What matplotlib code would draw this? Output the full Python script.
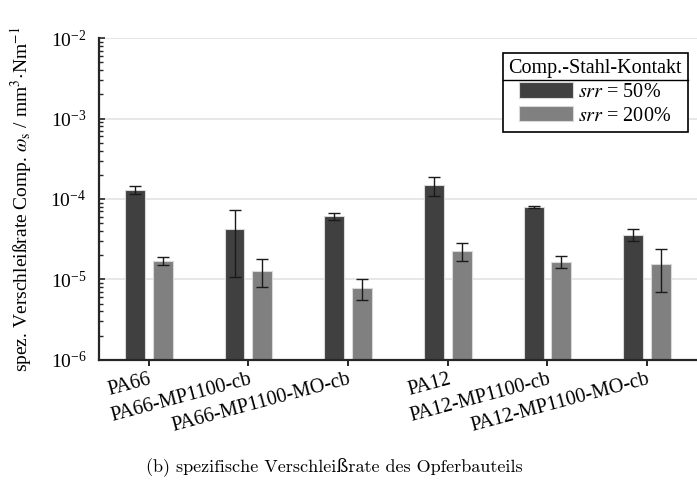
import matplotlib
matplotlib.use('Agg')
import matplotlib.pyplot as plt
import numpy as np
from matplotlib.ticker import LogLocator, NullFormatter

plt.rcParams['font.family'] = ['Liberation Serif', 'DejaVu Serif']
plt.rcParams['mathtext.fontset'] = 'stix'
plt.rcParams['font.size'] = 14

materials = ['PA66', 'PA66-MP1100-cb', 'PA66-MP1100-MO-cb',
             'PA12', 'PA12-MP1100-cb', 'PA12-MP1100-MO-cb']
rate_50 = [1.31e-4, 4.18e-5, 6.1e-5, 1.48e-4, 8.05e-5, 3.6e-5]
err_50 = [0.16e-4, 3.1e-5, 0.6e-5, 0.38e-4, 0.22e-5, 0.6e-5]
rate_200 = [1.69e-5, 1.29e-5, 7.8e-6, 2.25e-5, 1.67e-5, 1.55e-5]
err_200 = [0.19e-5, 0.49e-5, 2.3e-6, 0.55e-5, 0.27e-5, 0.86e-5]
legend_title = 'Comp.-Stahl-Kontakt'
series_labels = [r'$srr$ = 50%', r'$srr$ = 200%']

fig = plt.figure(figsize=(6.97, 4.83), dpi=100)
ax = fig.add_axes([0.142, 0.255, 0.858, 0.666])

x = np.arange(1, len(materials) + 1)
w = 0.2
b1 = ax.bar(x - 0.14, rate_50, w, color='#404040', edgecolor='#d9d9d9',
            linewidth=0.8, label=series_labels[0], zorder=2)
b2 = ax.bar(x + 0.14, rate_200, w, color='#808080', edgecolor='#d9d9d9',
            linewidth=0.8, label=series_labels[1], zorder=2)
ax.errorbar(x - 0.14, rate_50, yerr=err_50, fmt='none', ecolor='#1a1a1a',
            elinewidth=1, capsize=4, capthick=1, zorder=3)
ax.errorbar(x + 0.14, rate_200, yerr=err_200, fmt='none', ecolor='#1a1a1a',
            elinewidth=1, capsize=4, capthick=1, zorder=3)

ax.set_yscale('log')
ax.set_ylim(1e-6, 1e-2)
ax.set_xlim(0.5, 6.5)
ax.yaxis.set_major_locator(LogLocator(base=10, numticks=10))
ax.yaxis.set_minor_locator(LogLocator(base=10, subs=np.arange(2, 10), numticks=10))
ax.yaxis.set_minor_formatter(NullFormatter())
ax.grid(axis='y', which='major', color='#e3e3e3', linewidth=1.2, zorder=0)
ax.set_axisbelow(True)

for s in ['top', 'right']:
    ax.spines[s].set_visible(False)
for s in ['left', 'bottom']:
    ax.spines[s].set_linewidth(1.6)
    ax.spines[s].set_color('#262626')

ax.tick_params(axis='y', which='major', direction='in', length=4.5, width=1.2,
               color='#262626', labelsize=14, pad=9)
ax.tick_params(axis='y', which='minor', direction='in', length=3, width=1,
               color='#262626')
ax.tick_params(axis='x', direction='out', length=4, width=1.4, color='#262626')

ax.set_xticks(x)
ax.set_xticklabels(materials, rotation=15, ha='right', rotation_mode='anchor',
                   fontsize=14.5)
ax.set_ylabel(r'spez. Verschleißrate Comp. $\omega_{\rm s}$ / mm$^3$$\cdot$Nm$^{-1}$',
              fontsize=14, labelpad=12)

leg = ax.legend(handles=[b1, b2], title=legend_title, loc='upper right',
                bbox_to_anchor=(1.002, 0.985), frameon=True, fancybox=False,
                edgecolor='black', framealpha=1, fontsize=14.5,
                title_fontsize=14.5, handlelength=2.7, handleheight=0.8,
                handletextpad=0.25, borderpad=0.3, labelspacing=0.2)
leg.get_frame().set_linewidth(1.2)
leg.set_zorder(5)

fig.text(0.48, 0.033, '(b) spezifische Verschleißrate des Opferbauteils',
         ha='center', va='center', fontsize=13,
         family=['cmr10', 'DejaVu Serif'])

# separator under the legend title, placed from the rendered legend
fig.canvas.draw()
r = fig.canvas.get_renderer()
lb = leg.get_frame().get_window_extent(r)
tb = leg.get_title().get_window_extent(r)
ysep = tb.y0 - 2
inv = ax.transAxes.inverted()
p0 = inv.transform((lb.x0, ysep))
p1 = inv.transform((lb.x1, ysep))
ax.plot([p0[0], p1[0]], [p0[1], p1[1]], color='black', linewidth=1.0,
        transform=ax.transAxes, clip_on=False, zorder=6)

fig.savefig('out.png', dpi=100)
